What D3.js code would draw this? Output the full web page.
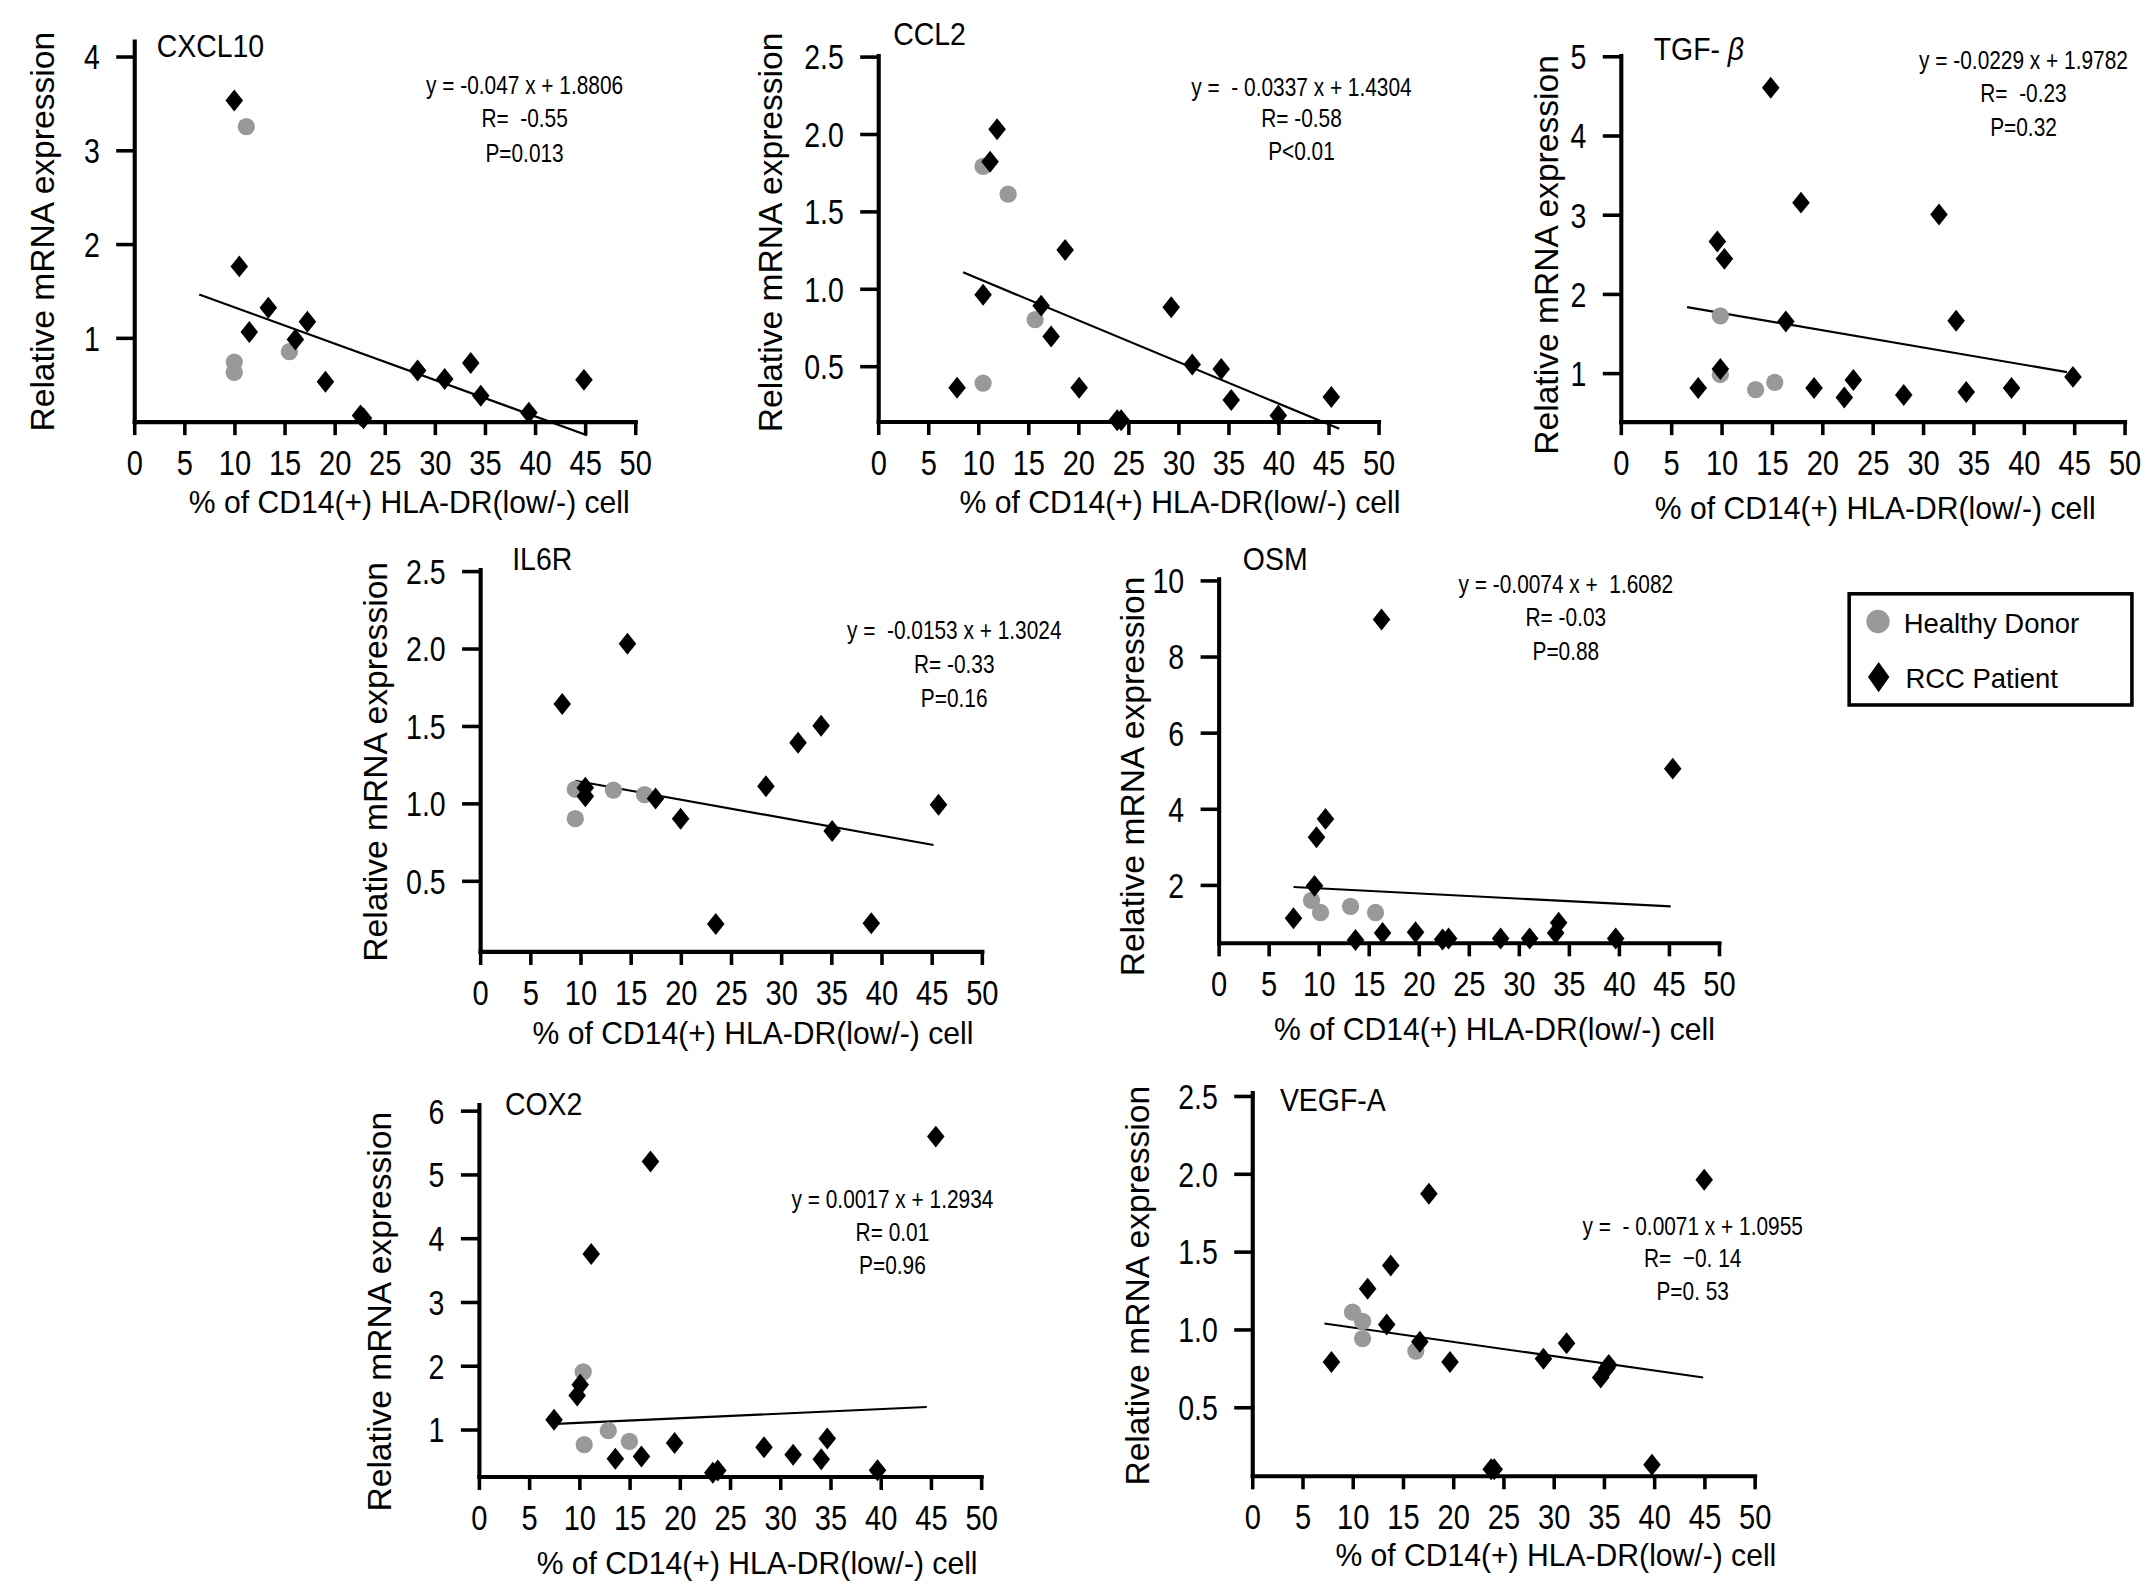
<!DOCTYPE html>
<html>
<head>
<meta charset="utf-8">
<script src="https://cdn.jsdelivr.net/npm/d3@7"></script>
<style>
  html, body { margin: 0; padding: 0; background: #fff; }
  text { font-family: "Liberation Sans", Arial, Helvetica, sans-serif; fill: #000; }
</style>
</head>
<body>
<svg id="fig"></svg>
<script>
// ---- data: [x %, relative expression] ----
const xTicks = [0, 5, 10, 15, 20, 25, 30, 35, 40, 45, 50];

const cxcl10Rcc = [[10.0,3.53],[10.5,1.76],[11.5,1.06],[13.4,1.32],[16.1,0.98],[17.3,1.17],[19.1,0.53],[22.6,0.17],[22.9,0.14],[28.3,0.65],[31.0,0.56],[33.6,0.73],[34.6,0.38],[39.4,0.20],[44.9,0.55]];
const cxcl10Healthy = [[11.2,3.25],[10.0,0.74],[10.0,0.63],[15.5,0.85]];
const cxcl10Fit = [[6.5,1.46],[45.2,-0.04]];
const cxcl10YTicks = [1, 2, 3, 4];
const cxcl10Stats = ["y = -0.047 x + 1.8806", "R=  -0.55", "P=0.013"];

const ccl2Rcc = [[7.9,0.36],[10.5,0.96],[11.2,1.82],[11.9,2.03],[16.3,0.89],[17.3,0.69],[18.7,1.25],[20.1,0.36],[23.9,0.15],[24.3,0.15],[29.3,0.88],[31.4,0.51],[34.3,0.48],[35.3,0.28],[40.0,0.18],[45.3,0.30]];
const ccl2Healthy = [[10.5,1.79],[13.0,1.61],[15.7,0.80],[10.5,0.39]];
const ccl2Fit = [[8.5,1.105],[46.1,0.094]];
const ccl2YTicks = [0.5, 1.0, 1.5, 2.0, 2.5];
const ccl2Stats = ["y =  - 0.0337 x + 1.4304", "R= -0.58", "P<0.01"];

const tgfbRcc = [[7.7,0.81],[9.6,2.66],[10.3,2.44],[9.9,1.05],[14.9,4.60],[16.4,1.65],[17.9,3.15],[19.2,0.81],[22.2,0.69],[23.1,0.91],[28.1,0.72],[31.6,3.00],[33.3,1.66],[34.3,0.76],[38.8,0.81],[44.9,0.95]];
const tgfbHealthy = [[9.9,1.72],[9.9,0.98],[13.4,0.79],[15.3,0.88]];
const tgfbFit = [[6.6,1.83],[44.3,1.01]];
const tgfbYTicks = [1, 2, 3, 4, 5];
const tgfbStats = ["y = -0.0229 x + 1.9782", "R=  -0.23", "P=0.32"];

const il6rRcc = [[8.2,1.64],[10.5,1.10],[10.5,1.045],[14.7,2.03],[17.5,1.03],[20.0,0.90],[23.5,0.22],[28.5,1.11],[31.7,1.39],[34.0,1.50],[35.1,0.82],[39.0,0.225],[45.7,0.99]];
const il6rHealthy = [[9.5,1.09],[9.5,0.90],[13.3,1.085],[16.4,1.056]];
const il6rFit = [[9.5,1.145],[45.2,0.73]];
const il6rYTicks = [0.5, 1.0, 1.5, 2.0, 2.5];
const il6rStats = ["y =  -0.0153 x + 1.3024", "R= -0.33", "P=0.16"];

const osmRcc = [[7.5,1.12],[9.6,1.97],[9.8,3.25],[10.7,3.73],[13.7,0.55],[16.3,8.97],[16.4,0.73],[19.7,0.75],[22.4,0.56],[23.0,0.59],[28.2,0.59],[31.1,0.59],[33.7,0.73],[34.0,1.00],[39.7,0.59],[45.4,5.05]];
const osmHealthy = [[9.3,1.59],[10.2,1.27],[13.2,1.43],[15.7,1.27]];
const osmFit = [[7.5,1.94],[45.2,1.43]];
const osmYTicks = [2, 4, 6, 8, 10];
const osmStats = ["y = -0.0074 x +  1.6082", "R= -0.03", "P=0.88"];

const cox2Rcc = [[7.5,1.15],[9.8,1.53],[10.1,1.70],[11.2,3.75],[13.6,0.54],[16.2,0.575],[17.1,5.20],[19.5,0.785],[23.3,0.32],[23.8,0.355],[28.4,0.72],[31.3,0.60],[34.1,0.53],[34.7,0.855],[39.7,0.36],[45.5,5.59]];
const cox2Healthy = [[10.4,1.90],[10.5,0.76],[12.9,0.98],[15.0,0.81]];
const cox2Fit = [[7.7,1.086],[44.6,1.35]];
const cox2YTicks = [1, 2, 3, 4, 5, 6];
const cox2Stats = ["y = 0.0017 x + 1.2934", "R= 0.01", "P=0.96"];

const vegfaRcc = [[7.9,0.79],[11.5,1.26],[13.4,1.03],[13.8,1.41],[16.7,0.92],[17.6,1.87],[19.7,0.79],[23.8,0.10],[24.1,0.10],[29.0,0.81],[31.3,0.91],[34.7,0.69],[35.3,0.75],[35.5,0.77],[39.8,0.13],[45.0,1.96]];
const vegfaHealthy = [[10.0,1.11],[11.0,1.05],[11.0,0.94],[16.3,0.86]];
const vegfaFit = [[7.2,1.037],[44.9,0.69]];
const vegfaYTicks = [0.5, 1.0, 1.5, 2.0, 2.5];
const vegfaStats = ["y =  - 0.0071 x + 1.0955", "R=  \u22120. 14", "P=0. 53"];

const legendLabels = ["Healthy Donor", "RCC Patient"];

// ---- layout (drawing units: 1566 x 1162, scaled to the page) ----
const W = 1566, H = 1162;
const grey = "#999999";

const panels = [
  { name: "CXCL10", rcc: cxcl10Rcc, hd: cxcl10Healthy, fit: cxcl10Fit, yTicks: cxcl10YTicks, stats: cxcl10Stats, fmt: "d",
    left: 97.5, right: 462.5, axisY: 307, top: 29.7, vmin: 0.107, vmax: 4.166,
    title: [114, 41.6], statX: 382, statY: [62, 86, 111], yTitle: [30.3, 168.8], xTitle: [298, 374], greyTick: 1 },
  { name: "CCL2", rcc: ccl2Rcc, hd: ccl2Healthy, fit: ccl2Fit, yTicks: ccl2YTicks, stats: ccl2Stats, fmt: ".1f",
    left: 639.5, right: 1004, axisY: 306.9, top: 40.3, vmin: 0.143, vmax: 2.507,
    title: [650.5, 32.8], statX: 948, statY: [63, 85.7, 109.6], yTitle: [560.4, 169.3], xTitle: [859.5, 373.5] },
  { name: "TGF-", beta: true, rcc: tgfbRcc, hd: tgfbHealthy, fit: tgfbFit, yTicks: tgfbYTicks, stats: tgfbStats, fmt: "d",
    left: 1180.5, right: 1547.5, axisY: 307, top: 40.3, vmin: 0.388, vmax: 5.01,
    title: [1204.6, 44], statX: 1474, statY: [43.3, 67.5, 92], yTitle: [1125.7, 185.7], xTitle: [1366, 378] },
  { name: "IL6R", rcc: il6rRcc, hd: il6rHealthy, fit: il6rFit, yTicks: il6rYTicks, stats: il6rStats, fmt: ".1f",
    left: 349.5, right: 715, axisY: 693, top: 414.8, vmin: 0.044, vmax: 2.51,
    title: [373, 415.3], statX: 695, statY: [459, 483.3, 508.5], yTitle: [273, 555], xTitle: [548.4, 760.5] },
  { name: "OSM", rcc: osmRcc, hd: osmHealthy, fit: osmFit, yTicks: osmYTicks, stats: osmStats, fmt: "d",
    left: 887.5, right: 1252, axisY: 686.7, top: 421.6, vmin: 0.48, vmax: 10.04,
    title: [905.3, 415.3], statX: 1140.6, statY: [425.3, 449.3, 474], yTitle: [824.7, 565.7], xTitle: [1088.6, 758] },
  { name: "COX2", rcc: cox2Rcc, hd: cox2Healthy, fit: cox2Fit, yTicks: cox2YTicks, stats: cox2Stats, fmt: "d",
    left: 348.6, right: 714.5, axisY: 1075.5, top: 804.5, vmin: 0.264, vmax: 6.097,
    title: [367.7, 812], statX: 650, statY: [873.2, 897, 921.3], yTitle: [276.2, 955.6], xTitle: [551.4, 1146.5] },
  { name: "VEGF-A", rcc: vegfaRcc, hd: vegfaHealthy, fit: vegfaFit, yTicks: vegfaYTicks, stats: vegfaStats, fmt: ".1f",
    left: 912, right: 1278, axisY: 1075, top: 795.8, vmin: 0.06, vmax: 2.522,
    title: [932.3, 809.5], statX: 1233, statY: [893.2, 916.5, 940.6], yTitle: [827.8, 936.7], xTitle: [1133.3, 1141] }
];

const svg = d3.select("#fig")
  .attr("width", 2150)
  .attr("height", 1595)
  .attr("viewBox", `0 0 ${W} ${H}`);

svg.append("rect").attr("width", W).attr("height", H).attr("fill", "#fff");

// text with a horizontal squeeze, the figure uses a narrow face
function label(g, x, y, str, size, sx, anchor) {
  return g.append("text")
    .attr("transform", `translate(${x},${y}) scale(${sx},1)`)
    .attr("text-anchor", anchor || "start")
    .style("font-size", size + "px")
    .style("white-space", "pre")
    .text(str);
}

function diamond(w, h) {
  return `M0,${-h}L${w},0L0,${h}L${-w},0Z`;
}

const tickSx = 0.83;

panels.forEach(p => {
  const g = svg.append("g");

  const x = d3.scaleLinear().domain([0, 50]).range([p.left, p.right]);
  const y = d3.scaleLinear().domain([p.vmin, p.vmax]).range([p.axisY, p.top]);

  // x axis
  const gx = g.append("g")
    .attr("transform", `translate(0,${p.axisY})`)
    .call(d3.axisBottom(x).tickValues(xTicks).tickSize(10).tickSizeOuter(0).tickFormat(d3.format("d")));
  gx.selectAll("text")
    .attr("dy", null)
    .attr("y", 39)
    .attr("x", 0)
    .attr("transform", `scale(${tickSx},1)`)
    .style("font-size", "25.5px")
    .style("font-family", "'Liberation Sans', Arial, sans-serif");

  // y axis
  const gy = g.append("g")
    .attr("transform", `translate(${p.left},0)`)
    .call(d3.axisLeft(y).tickValues(p.yTicks).tickSize(13).tickSizeOuter(0).tickFormat(d3.format(p.fmt)));
  gy.selectAll("text")
    .attr("x", -25 / tickSx)
    .attr("dy", "0.36em")
    .attr("transform", `scale(${tickSx},1)`)
    .style("font-size", "25px")
    .style("font-family", "'Liberation Sans', Arial, sans-serif")
    .attr("fill", d => d === p.greyTick ? "#8a8a8a" : "#000");

  g.selectAll(".domain").attr("stroke", "#000").attr("stroke-width", 3).attr("stroke-linecap", "square");
  g.selectAll(".tick line").attr("stroke", "#000").attr("stroke-width", 2.6);

  // fitted line
  g.append("path")
    .datum(p.fit)
    .attr("fill", "none")
    .attr("stroke", "#000")
    .attr("stroke-width", 1.6)
    .attr("d", d3.line().x(d => x(d[0])).y(d => y(d[1])));

  // healthy donors
  g.selectAll(".hd")
    .data(p.hd)
    .enter().append("circle")
    .attr("cx", d => x(d[0]))
    .attr("cy", d => y(d[1]))
    .attr("r", 6.3)
    .attr("fill", grey);

  // RCC patients
  g.selectAll(".rcc")
    .data(p.rcc)
    .enter().append("path")
    .attr("transform", d => `translate(${x(d[0])},${y(d[1])})`)
    .attr("d", diamond(6.4, 8))
    .attr("fill", "#000");

  // gene name
  const t = label(g, p.title[0], p.title[1], p.name, 23, 0.9, "start");
  if (p.beta) t.append("tspan").text(" \u03b2").style("font-style", "italic");

  // regression stats
  p.stats.forEach((s, i) => label(g, p.statX, p.statY[i] + 6.8, s, 19, 0.8, "middle"));

  // axis titles
  g.append("text")
    .attr("transform", `translate(${p.yTitle[0]},${p.yTitle[1]}) rotate(-90)`)
    .attr("text-anchor", "middle")
    .attr("dy", "0.36em")
    .style("font-size", "24.5px")
    .text("Relative mRNA expression");

  label(g, p.xTitle[0], p.xTitle[1], "% of CD14(+) HLA-DR(low/-) cell", 22.5, 0.975, "middle");
});

// legend
const lg = svg.append("g");
lg.append("rect")
  .attr("x", 1347).attr("y", 432.6)
  .attr("width", 206).attr("height", 81)
  .attr("fill", "#fff").attr("stroke", "#000").attr("stroke-width", 2.6);
lg.append("circle").attr("cx", 1368).attr("cy", 452.8).attr("r", 8.5).attr("fill", grey);
lg.append("path").attr("transform", "translate(1368.5,493.3)").attr("d", diamond(7.8, 11)).attr("fill", "#000");
label(lg, 1386.7, 461.3, legendLabels[0], 20, 1, "start");
label(lg, 1388, 500.9, legendLabels[1], 20, 1, "start");
</script>
</body>
</html>
